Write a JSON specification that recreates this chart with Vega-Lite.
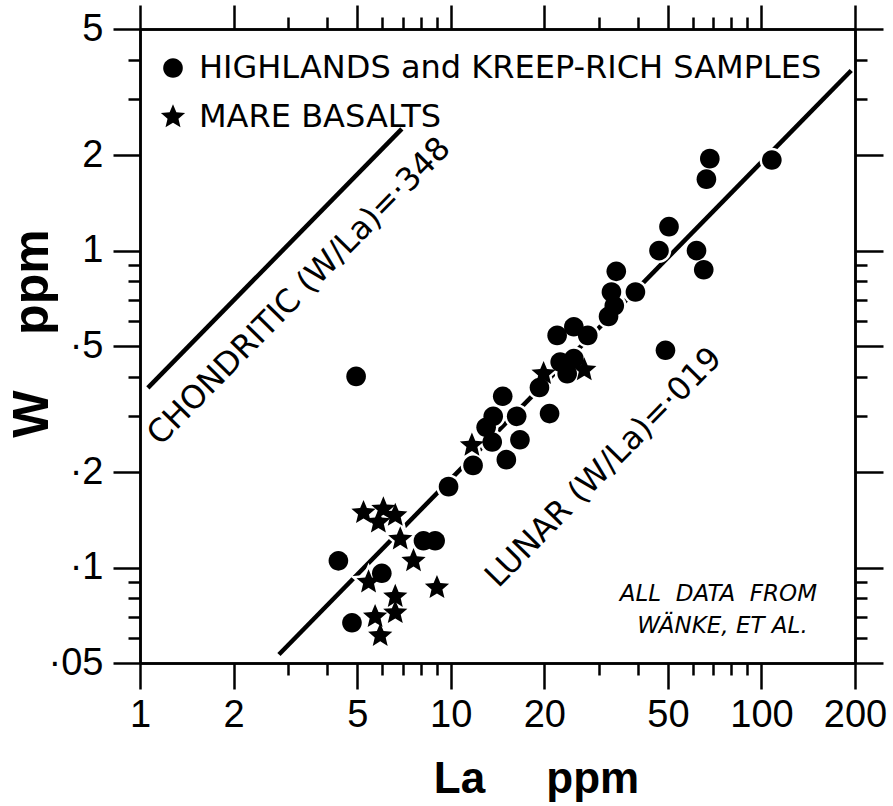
{
  "$schema": "https://vega.github.io/schema/vega-lite/v6.json",
  "width": 715,
  "height": 634,
  "autosize": {"type": "none"},
  "padding": {"left": 140, "top": 29, "right": 38, "bottom": 143},
  "background": "white",
  "config": {
    "view": {"stroke": null},
    "axis": {"grid": false, "domainColor": "black", "domainWidth": 2.5, "tickColor": "black", "tickWidth": 2.5, "labelColor": "black", "titleColor": "black"}
  },
  "datasets": {
    "pts": [
      {"La": 108, "W": 1.93, "type": "HIGHLANDS and KREEP-RICH SAMPLES"},
      {"La": 68.2, "W": 1.95, "type": "HIGHLANDS and KREEP-RICH SAMPLES"},
      {"La": 66.5, "W": 1.68, "type": "HIGHLANDS and KREEP-RICH SAMPLES"},
      {"La": 50.4, "W": 1.19, "type": "HIGHLANDS and KREEP-RICH SAMPLES"},
      {"La": 46.8, "W": 1.0, "type": "HIGHLANDS and KREEP-RICH SAMPLES"},
      {"La": 61.8, "W": 1.0, "type": "HIGHLANDS and KREEP-RICH SAMPLES"},
      {"La": 65.2, "W": 0.87, "type": "HIGHLANDS and KREEP-RICH SAMPLES"},
      {"La": 34.1, "W": 0.86, "type": "HIGHLANDS and KREEP-RICH SAMPLES"},
      {"La": 39.3, "W": 0.74, "type": "HIGHLANDS and KREEP-RICH SAMPLES"},
      {"La": 32.9, "W": 0.74, "type": "HIGHLANDS and KREEP-RICH SAMPLES"},
      {"La": 33.6, "W": 0.67, "type": "HIGHLANDS and KREEP-RICH SAMPLES"},
      {"La": 32.2, "W": 0.62, "type": "HIGHLANDS and KREEP-RICH SAMPLES"},
      {"La": 22.0, "W": 0.54, "type": "HIGHLANDS and KREEP-RICH SAMPLES"},
      {"La": 24.9, "W": 0.575, "type": "HIGHLANDS and KREEP-RICH SAMPLES"},
      {"La": 27.6, "W": 0.54, "type": "HIGHLANDS and KREEP-RICH SAMPLES"},
      {"La": 22.5, "W": 0.445, "type": "HIGHLANDS and KREEP-RICH SAMPLES"},
      {"La": 24.9, "W": 0.456, "type": "HIGHLANDS and KREEP-RICH SAMPLES"},
      {"La": 23.7, "W": 0.409, "type": "HIGHLANDS and KREEP-RICH SAMPLES"},
      {"La": 49.1, "W": 0.485, "type": "HIGHLANDS and KREEP-RICH SAMPLES"},
      {"La": 19.3, "W": 0.37, "type": "HIGHLANDS and KREEP-RICH SAMPLES"},
      {"La": 14.7, "W": 0.347, "type": "HIGHLANDS and KREEP-RICH SAMPLES"},
      {"La": 20.8, "W": 0.306, "type": "HIGHLANDS and KREEP-RICH SAMPLES"},
      {"La": 16.3, "W": 0.30, "type": "HIGHLANDS and KREEP-RICH SAMPLES"},
      {"La": 13.7, "W": 0.30, "type": "HIGHLANDS and KREEP-RICH SAMPLES"},
      {"La": 13.0, "W": 0.277, "type": "HIGHLANDS and KREEP-RICH SAMPLES"},
      {"La": 13.6, "W": 0.249, "type": "HIGHLANDS and KREEP-RICH SAMPLES"},
      {"La": 16.7, "W": 0.253, "type": "HIGHLANDS and KREEP-RICH SAMPLES"},
      {"La": 15.1, "W": 0.219, "type": "HIGHLANDS and KREEP-RICH SAMPLES"},
      {"La": 11.8, "W": 0.21, "type": "HIGHLANDS and KREEP-RICH SAMPLES"},
      {"La": 9.84, "W": 0.18, "type": "HIGHLANDS and KREEP-RICH SAMPLES"},
      {"La": 8.17, "W": 0.1215, "type": "HIGHLANDS and KREEP-RICH SAMPLES"},
      {"La": 8.91, "W": 0.1215, "type": "HIGHLANDS and KREEP-RICH SAMPLES"},
      {"La": 4.35, "W": 0.105, "type": "HIGHLANDS and KREEP-RICH SAMPLES"},
      {"La": 6.0, "W": 0.096, "type": "HIGHLANDS and KREEP-RICH SAMPLES"},
      {"La": 4.81, "W": 0.067, "type": "HIGHLANDS and KREEP-RICH SAMPLES"},
      {"La": 4.96, "W": 0.401, "type": "HIGHLANDS and KREEP-RICH SAMPLES"},
      {"La": 19.9, "W": 0.409, "type": "MARE BASALTS"},
      {"La": 26.9, "W": 0.42, "type": "MARE BASALTS"},
      {"La": 11.7, "W": 0.243, "type": "MARE BASALTS"},
      {"La": 5.24, "W": 0.149, "type": "MARE BASALTS"},
      {"La": 6.07, "W": 0.153, "type": "MARE BASALTS"},
      {"La": 6.63, "W": 0.146, "type": "MARE BASALTS"},
      {"La": 5.85, "W": 0.139, "type": "MARE BASALTS"},
      {"La": 6.88, "W": 0.123, "type": "MARE BASALTS"},
      {"La": 7.59, "W": 0.105, "type": "MARE BASALTS"},
      {"La": 5.44, "W": 0.09, "type": "MARE BASALTS"},
      {"La": 9.03, "W": 0.0864, "type": "MARE BASALTS"},
      {"La": 6.63, "W": 0.081, "type": "MARE BASALTS"},
      {"La": 6.63, "W": 0.072, "type": "MARE BASALTS"},
      {"La": 5.71, "W": 0.070, "type": "MARE BASALTS"},
      {"La": 5.93, "W": 0.061, "type": "MARE BASALTS"}
    ]
  },
  "layer": [
    {
      "data": {"values": [{"La": 2.8, "W": 0.0532}, {"La": 194.5, "W": 3.70}]},
      "mark": {"type": "line", "color": "black", "strokeWidth": 4.5, "strokeCap": "butt"},
      "encoding": {
        "x": {"field": "La", "type": "quantitative", "scale": {"type": "log", "domain": [1, 200], "nice": false},
          "axis": {"orient": "bottom", "values": [1, 2, 5, 10, 20, 50, 100, 200], "format": "~g", "tickSize": 26, "labelFont": "Liberation Sans", "labelFontSize": 38, "labelPadding": 7, "labelFlush": false, "labelOverlap": false,
            "title": "La\u00a0\u00a0\u00a0\u00a0\u00a0ppm", "titleFont": "Liberation Sans", "titleFontSize": 44, "titleFontWeight": "bold", "titleX": 396, "titleY": 129, "titleAlign": "center", "titleBaseline": "alphabetic"}},
        "y": {"field": "W", "type": "quantitative", "scale": {"type": "log", "domain": [0.05, 5], "nice": false},
          "axis": {"orient": "left", "values": [0.05, 0.1, 0.2, 0.5, 1, 2, 5], "labelExpr": "datum.value >= 1 ? format(datum.value, '~g') : '\u00b7' + replace(format(datum.value, '~g'), '0.', '')", "tickSize": 27, "labelFont": "Liberation Sans", "labelFontSize": 38, "labelPadding": 10, "labelFlush": false, "labelOverlap": false,
            "title": "W\u00a0\u00a0\u00a0\u00a0ppm", "titleFont": "Liberation Sans", "titleFontSize": 50, "titleFontWeight": "bold", "titleAngle": 270, "titleX": -93, "titleY": 304, "titleAlign": "center", "titleBaseline": "alphabetic"}}
      }
    },
    {
      "data": {"values": [{"La": 1.06, "W": 0.369}, {"La": 6.96, "W": 2.42}]},
      "mark": {"type": "line", "color": "black", "strokeWidth": 4.5, "strokeCap": "butt"},
      "encoding": {
        "x": {"field": "La", "type": "quantitative", "scale": {"type": "log", "domain": [1, 200], "nice": false},
          "axis": {"orient": "bottom", "values": [3, 4, 6, 7, 8, 9, 30, 40, 60, 70, 80, 90], "tickSize": 12, "labels": false, "title": null}},
        "y": {"field": "W", "type": "quantitative", "scale": {"type": "log", "domain": [0.05, 5], "nice": false},
          "axis": {"orient": "left", "values": [0.06, 0.07, 0.08, 0.09, 0.3, 0.4, 0.6, 0.7, 0.8, 0.9, 3, 4], "tickSize": 12, "labels": false, "title": null}}
      }
    },
    {
      "data": {"name": "pts"},
      "transform": [{"filter": "datum.type === 'HIGHLANDS and KREEP-RICH SAMPLES'"}],
      "mark": {"type": "point", "filled": true, "color": "white", "stroke": "white", "strokeWidth": 5, "size": 650, "opacity": 1, "shape": "M-0.77,0A0.77,0.77,0,1,1,0.77,0A0.77,0.77,0,1,1,-0.77,0Z"},
      "encoding": {
        "x": {"field": "La", "type": "quantitative", "scale": {"type": "log", "domain": [1, 200], "nice": false},
          "axis": {"orient": "top", "values": [1, 2, 5, 10, 20, 50, 100, 200], "tickSize": 24, "labels": false, "title": null}},
        "y": {"field": "W", "type": "quantitative", "scale": {"type": "log", "domain": [0.05, 5], "nice": false},
          "axis": {"orient": "right", "values": [0.05, 0.1, 0.2, 0.5, 1, 2, 5], "tickSize": 28, "labels": false, "title": null}}
      }
    },
    {
      "data": {"name": "pts"},
      "transform": [{"filter": "datum.type === 'MARE BASALTS'"}],
      "mark": {"type": "point", "filled": true, "color": "white", "stroke": "white", "strokeWidth": 5, "size": 650, "opacity": 1, "shape": "M0,-1L0.2645,-0.364L0.9511,-0.309L0.428,0.139L0.5878,0.809L0,0.45L-0.5878,0.809L-0.428,0.139L-0.9511,-0.309L-0.2645,-0.364Z"},
      "encoding": {
        "x": {"field": "La", "type": "quantitative", "scale": {"type": "log", "domain": [1, 200], "nice": false}, "axis": null},
        "y": {"field": "W", "type": "quantitative", "scale": {"type": "log", "domain": [0.05, 5], "nice": false}, "axis": null}
      }
    },
    {
      "data": {"name": "pts"},
      "mark": {"type": "point", "filled": true, "color": "black", "size": 650, "opacity": 1},
      "encoding": {
        "x": {"field": "La", "type": "quantitative", "scale": {"type": "log", "domain": [1, 200], "nice": false},
          "axis": {"orient": "top", "values": [3, 4, 6, 7, 8, 9, 30, 40, 60, 70, 80, 90], "tickSize": 12, "labels": false, "title": null}},
        "y": {"field": "W", "type": "quantitative", "scale": {"type": "log", "domain": [0.05, 5], "nice": false},
          "axis": {"orient": "right", "values": [0.06, 0.07, 0.08, 0.09, 0.3, 0.4, 0.6, 0.7, 0.8, 0.9, 3, 4], "tickSize": 12, "labels": false, "title": null}},
        "shape": {"field": "type", "type": "nominal",
          "scale": {"domain": ["HIGHLANDS and KREEP-RICH SAMPLES", "MARE BASALTS"], "range": ["M-0.77,0A0.77,0.77,0,1,1,0.77,0A0.77,0.77,0,1,1,-0.77,0Z", "M0,-1L0.2645,-0.364L0.9511,-0.309L0.428,0.139L0.5878,0.809L0,0.45L-0.5878,0.809L-0.428,0.139L-0.9511,-0.309L-0.2645,-0.364Z"]},
          "legend": {"title": null, "orient": "none", "legendX": 17, "legendY": 23, "padding": 0, "symbolSize": 650, "symbolFillColor": "black", "symbolStrokeColor": "black", "symbolStrokeWidth": 0, "labelFont": "DejaVu Sans", "labelFontSize": 32, "labelColor": "black", "labelLimit": 0, "rowPadding": 17, "labelOffset": 10}}
      }
    },
    {
      "data": {"values": [{"La": 3.25, "W": 0.7435, "label": "CHONDRITIC (W/La)=\u00b7348"}, {"La": 31.05, "W": 0.207, "label": "LUNAR (W/La)=\u00b7019"}]},
      "mark": {"type": "text", "angle": 314.5, "align": "center", "baseline": "middle", "font": "DejaVu Sans", "fontSize": 32, "color": "black"},
      "encoding": {
        "x": {"field": "La", "type": "quantitative", "scale": {"type": "log", "domain": [1, 200], "nice": false}, "axis": null},
        "y": {"field": "W", "type": "quantitative", "scale": {"type": "log", "domain": [0.05, 5], "nice": false}, "axis": null},
        "text": {"field": "label"}
      }
    },
    {
      "data": {"values": [{"La": 72.7, "W": 0.0784, "label": "ALL\u00a0\u00a0DATA\u00a0\u00a0FROM"}, {"La": 74.9, "W": 0.0621, "label": "W\u00c4NKE, ET AL."}]},
      "mark": {"type": "text", "align": "center", "baseline": "alphabetic", "font": "DejaVu Sans", "fontSize": 23, "fontStyle": "italic", "color": "black"},
      "encoding": {
        "x": {"field": "La", "type": "quantitative", "scale": {"type": "log", "domain": [1, 200], "nice": false}, "axis": null},
        "y": {"field": "W", "type": "quantitative", "scale": {"type": "log", "domain": [0.05, 5], "nice": false}, "axis": null},
        "text": {"field": "label"}
      }
    }
  ],
  "resolve": {"axis": {"x": "independent", "y": "independent"}}
}
